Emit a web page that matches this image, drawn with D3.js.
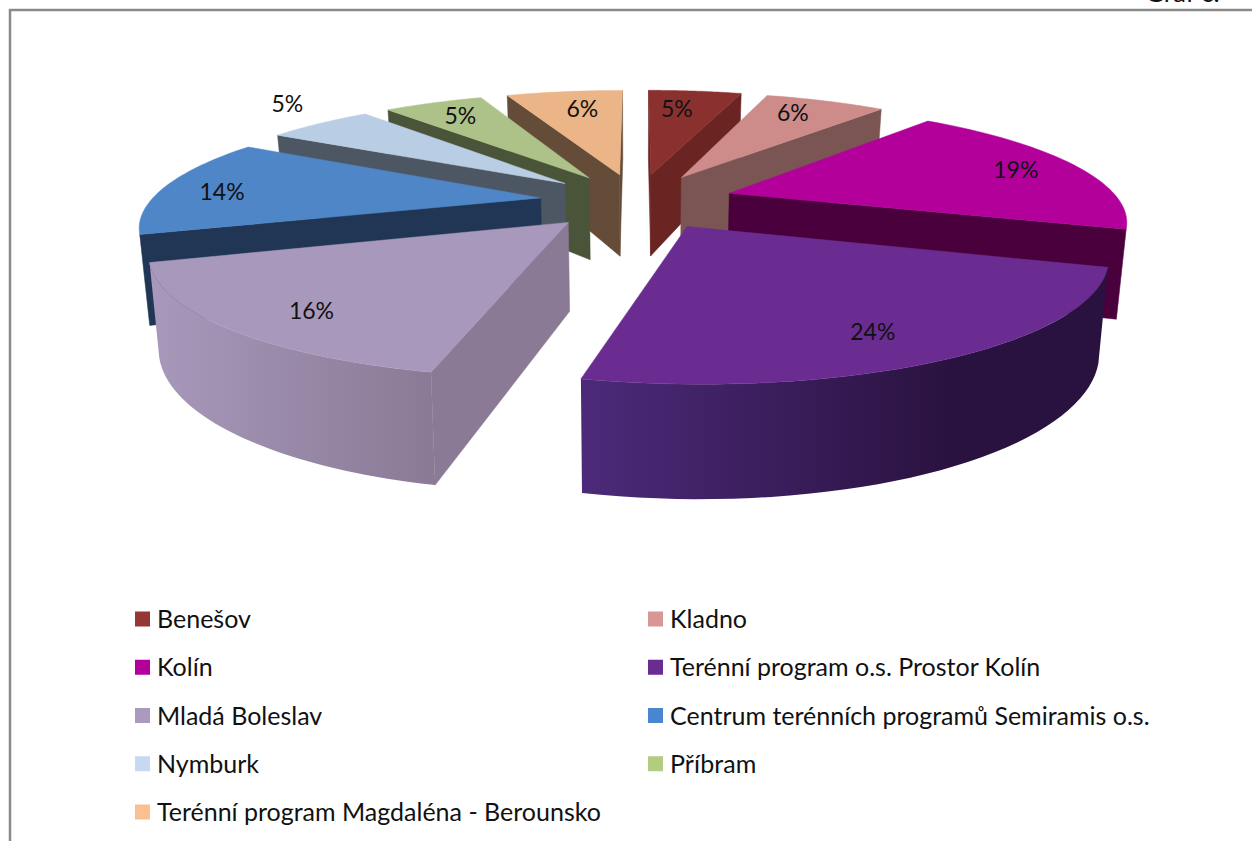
<!DOCTYPE html>
<html><head><meta charset="utf-8">
<style>html,body{margin:0;padding:0;background:#fff}svg{display:block}text{font-family:Lato,"Open Sans",sans-serif;fill:#111}</style>
<script src="https://cdn.jsdelivr.net/npm/d3@7"></script>
</head><body><div id="c"></div>
<script>
const categories=["Benešov","Kladno","Kolín","Terénní program o.s. Prostor Kolín","Mladá Boleslav","Centrum terénních programů Semiramis o.s.","Nymburk","Příbram","Terénní program Magdaléna - Berounsko"];
const values=[4.8,6.2,19,23.7,16.3,13.5,5.4,5.1,6];
const labels=["5%","6%","19%","24%","16%","14%","5%","5%","6%"];
const legendColors=["#953735","#d99694","#b3009b","#6a2c91","#aa9abf","#4a86d0","#c6d9f1","#b3cc82","#fac090"];
const topColors=["#8a3130","#cd8c8a","#b3009b","#6a2c91","#a898bb","#4f86c8","#b9cde4","#adc288","#ecb588"];
const wallColors=["#6a2523","#7b5554","#4a003c","#2a1240","#8a7a95","#203654","#4d5763","#4a5438","#644c38"];
const wallLeftColors=["#6a2523","#7b5554","#4a003c","#4c2a7a","#a898bb","#203654","#4d5763","#4a5438","#644c38"];
const labelRadius=[.753,.80,.82,.806,.818,.836,1.27,.803,.759];
const labelAngleFrac=[.38,.42,.51,.53,.45,.45,.72,.5,.57];

const W=1252,H=841;
const svg=d3.select("#c").append("svg").attr("width",W).attr("height",H);
const defs=svg.append("defs");

// frame
svg.append("path").attr("d",d3.line()([[10,841],[10,10],[1252,10]])).attr("fill","none").attr("stroke","#8a8a8a").attr("stroke-width",2.5);
svg.append("text").attr("x",1145).attr("y",2).attr("font-size",26).text("Graf č.");

// projection
const cx=637,cy=201,A=390,B=112,p=0.21,Hz=85.5,ex=0.25,conv=0.02;
const project=(u,v,z)=>{const s=1/(1+p*v);return [cx+A*u*s*(z?1-conv:1),cy-B*v*s+(z?Hz*s:0)];};

const arcs=d3.pie().sort(null).value(d=>d)(values);
const line=d3.line();
const slices=arcs.map((a,i)=>{
  const mid=(a.startAngle+a.endAngle)/2;
  const u0=ex*Math.sin(mid),v0=ex*Math.cos(mid);
  const thetas=d3.range(0,41).map(k=>a.startAngle+(a.endAngle-a.startAngle)*k/40);
  const rim=thetas.map(t=>[u0+Math.sin(t),v0+Math.cos(t)]);
  return {i,a,mid,u0,v0,rim,depth:v0+Math.cos(mid)};
});
const order=[...slices].sort((a,b)=>b.depth-a.depth);
const g=svg.append("g");
order.forEach(sl=>{
  const i=sl.i;
  const apexT=project(sl.u0,sl.v0,0),apexB=project(sl.u0,sl.v0,1);
  const rimT=sl.rim.map(d=>project(d[0],d[1],0)),rimB=sl.rim.map(d=>project(d[0],d[1],1));
  const top=[apexT,...rimT];
  const sign=Math.sign(d3.polygonArea(top));
  const isFront=(a,b,a2,b2)=>Math.sign(d3.polygonArea([a,b,b2,a2]))!==sign;
  const walls=[[apexT,rimT[0],apexB,rimB[0]],[rimT[40],apexT,rimB[40],apexB]];
  walls.forEach(w=>{ if(isFront(w[0],w[1],w[2],w[3]))
    g.append("path").attr("d",line([w[0],w[1],w[3],w[2]])+"Z").attr("fill",wallColors[i]).attr("stroke",wallColors[i]).attr("stroke-width",.5);
  });
  const idx=d3.range(0,40).filter(k=>isFront(rimT[k],rimT[k+1],rimB[k],rimB[k+1]));
  if(idx.length){
    const k0=idx[0],k1=idx[idx.length-1]+1;
    const tp=rimT.slice(k0,k1+1),bt=rimB.slice(k0,k1+1).reverse();
    const xs=[...tp,...bt].map(d=>d[0]);
    const id="w"+i;
    const x0=d3.min(xs),x1=d3.max(xs);
    const gr=defs.append("linearGradient").attr("id",id).attr("gradientUnits","userSpaceOnUse")
      .attr("x1",x0).attr("x2",x1).attr("y1",0).attr("y2",0);
    gr.append("stop").attr("offset",0).attr("stop-color",wallLeftColors[i]);
    gr.append("stop").attr("offset",i===3?.7:1).attr("stop-color",wallColors[i]);
    g.append("path").attr("d",line([...tp,...bt])+"Z").attr("fill",`url(#${id})`);
  }
  g.append("path").attr("d",line(top)+"Z").attr("fill",topColors[i]).attr("stroke",topColors[i]).attr("stroke-width",.5);
});

// data labels
slices.forEach(sl=>{
  const r=labelRadius[sl.i],t=sl.a.startAngle+(sl.a.endAngle-sl.a.startAngle)*labelAngleFrac[sl.i];
  const q=project(sl.u0+r*Math.sin(t),sl.v0+r*Math.cos(t),0);
  svg.append("text").attr("x",q[0]).attr("y",q[1]+8).attr("text-anchor","middle").attr("font-size",23).text(labels[sl.i]);
});

// legend
const col=d3.scaleOrdinal().domain([0,1]).range([135,648]);
const row=d3.scalePoint().domain(d3.range(5)).range([619,812]);
categories.forEach((c,i)=>{
  const x=col(i%2),y=row(Math.floor(i/2));
  svg.append("rect").attr("x",x).attr("y",y-7.5).attr("width",15).attr("height",15).attr("fill",legendColors[i]);
  svg.append("text").attr("x",x+22).attr("y",y+9).attr("font-size",25).text(c);
});
</script></body></html>
